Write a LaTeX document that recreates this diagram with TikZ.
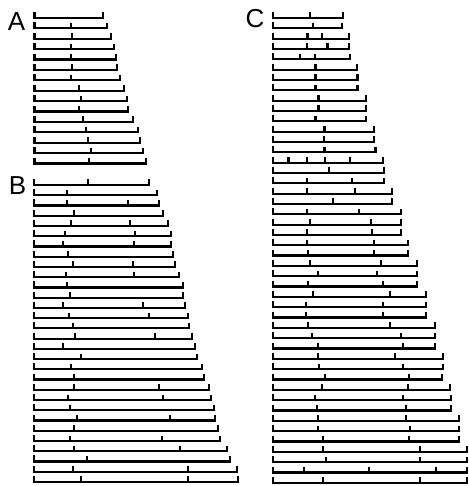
\documentclass[tikz,border=0pt]{standalone}
\usepackage{fontspec}
\setmainfont{Liberation Sans}
\begin{document}
\begin{tikzpicture}[x=0.5pt,y=-0.5pt,
  seg/.style={line width=1.1pt, line join=miter},
  tickmark/.style={line width=1.1pt},
  lab/.style={font=\fontsize{13}{13}\selectfont, inner sep=0pt}]
\useasboundingbox (0,0) rectangle (468,486);
\node[lab] (labA) at (16.5,21.5) {A};
\node[lab] (labB) at (17.5,186) {B};
\node[lab] (labC) at (255,19) {C};
% Panel A
\foreach \r/\xe/\tk [evaluate=\r as \y using 18+10.4*(\r-1)] in {
 1/102.7/{34.5}, 2/106.7/{71}, 3/111/{71.7}, 4/114/{70.7}, 5/115.7/{71},
 6/117.3/{71.7}, 7/120/{70.7}, 8/124.3/{79}, 9/126.7/{81}, 10/128.3/{78.7},
 11/132.7/{82.7}, 12/137.7/{85.7}, 13/140/{87.7}, 14/142.7/{90.7}, 15/145.7/{89}}{
  \draw[seg] (34.5,\y-6) -- (34.5,\y) -- (\xe,\y) -- (\xe,\y-5.5);
  \foreach \t in \tk {\draw[tickmark] (\t,\y) -- (\t,\y-5.5);}
}
% Panel B
\foreach \r/\xe/\tk [evaluate=\r as \y using 185+10.24*(\r-1)] in {
 1/149.3/{87.7}, 2/156.7/{66.7}, 3/159.3/{66.7,128}, 4/163.3/{74},
 5/167.7/{71,130}, 6/170.7/{65,135}, 7/170.7/{63.3,134.3}, 8/173.3/{68.3},
 9/175/{72.7,133.3}, 10/179/{65.7,134.3}, 11/182.7/{66.7}, 12/182.7/{70},
 13/185/{63.3,143.3}, 14/188.3/{69.3,149.3}, 15/189.3/{73}, 16/191.7/{75,155},
 17/195/{62.7}, 18/197.3/{80.7}, 19/201.7/{71}, 20/204/{74},
 21/209.3/{74,159.3}, 22/210.7/{67.7,162.7}, 23/214/{70}, 24/215/{77.3,170},
 25/218.3/{74}, 26/220/{70,161.7}, 27/226.7/{74,180}, 28/230/{86.7},
 29/237.3/{73.3,188.3}, 30/238.3/{81,188.3}}{
  \draw[seg] (34.3,\y-6) -- (34.3,\y) -- (\xe,\y) -- (\xe,\y-5.5);
  \foreach \t in \tk {\draw[tickmark] (\t,\y) -- (\t,\y-5.5);}
}
% Panel C
\foreach \r/\xe/\tk [evaluate=\r as \y using 18+10.33*(\r-1)] in {
 1/342.7/{310}, 2/341.7/{313}, 3/349/{307.5,322}, 4/349/{307,327.5},
 5/350/{300,315}, 6/356.7/{315.5}, 7/357.5/{315.5}, 8/357.5/{315.5},
 9/366/{318.5}, 10/366/{318.5}, 11/366/{315.5}, 12/374/{324.5},
 13/374/{324.3}, 14/375.5/{324.5}, 15/383/{288.5,306.7,325,350},
 16/384/{329.3}, 17/384/{306.7,352.3}, 18/392.3/{306.7,355},
 19/392.3/{332.7}, 20/401/{306.7,359.3}, 21/401/{310,371},
 22/401/{307.3,371.7}, 23/408.3/{307.3,374.3}, 24/408.3/{308.3,374},
 25/416.7/{310,381}, 26/416.7/{318.3,376.7}, 27/416.7/{307.7,383.3},
 28/426/{312.7,390}, 29/426/{306,382.7}, 30/426/{306,383.3},
 31/435/{308.3,390}, 32/435/{311.7,401}, 33/435/{318.3,403.3},
 34/442.7/{317.7,395}, 35/442.7/{319,402.7}, 36/442/{325,409.3},
 37/450/{321.7,408.3}, 38/450.7/{315,403.3}, 39/450.7/{316.7,406},
 40/459.3/{318.3,406}, 41/459.3/{317.7,410}, 42/459.3/{322.7,409.3},
 43/467/{323.3,420}, 44/467/{325.7,420}, 45/467/{304.3,369.3,436},
 46/467/{323.3,420}}{
  \draw[seg] (272.7,\y-6) -- (272.7,\y) -- (\xe,\y) -- (\xe,\y-5.5);
  \foreach \t in \tk {\draw[tickmark] (\t,\y) -- (\t,\y-5.5);}
}
\end{tikzpicture}
\end{document}
